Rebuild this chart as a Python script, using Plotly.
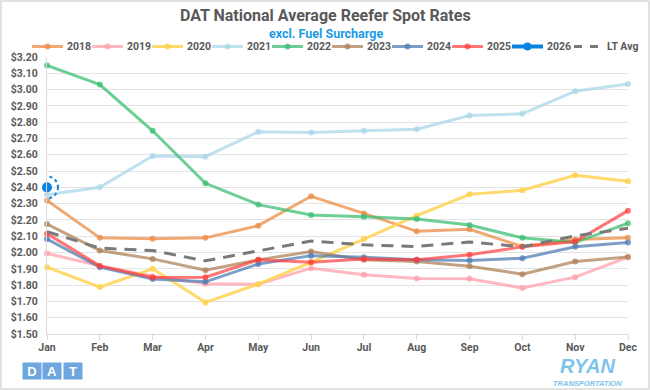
import plotly.graph_objects as go

months = ["Jan", "Feb", "Mar", "Apr", "May", "Jun", "Jul", "Aug", "Sep", "Oct", "Nov", "Dec"]

y2018 = [2.32, 2.09, 2.085, 2.09, 2.165, 2.345, 2.24, 2.13, 2.143, 2.037, 2.08, 2.09]
y2019 = [1.995, 1.918, 1.855, 1.808, 1.806, 1.904, 1.863, 1.84, 1.839, 1.782, 1.849, 1.971]
y2020 = [1.91, 1.788, 1.90, 1.694, 1.806, 1.939, 2.083, 2.226, 2.357, 2.382, 2.474, 2.437]
y2021 = [2.355, 2.40, 2.592, 2.588, 2.741, 2.737, 2.747, 2.757, 2.841, 2.851, 2.99, 3.035]
y2022 = [3.149, 3.031, 2.747, 2.425, 2.294, 2.231, 2.22, 2.206, 2.169, 2.09, 2.061, 2.18]
y2023 = [2.175, 2.012, 1.961, 1.892, 1.955, 2.006, 1.955, 1.945, 1.916, 1.867, 1.945, 1.973]
y2024 = [2.083, 1.91, 1.837, 1.82, 1.93, 1.981, 1.971, 1.955, 1.951, 1.965, 2.035, 2.061]
y2025 = [2.116, 1.918, 1.847, 1.849, 1.955, 1.941, 1.961, 1.955, 1.986, 2.035, 2.067, 2.257]
y2026 = [2.40]
lt_avg = [2.128, 2.027, 2.012, 1.949, 2.01, 2.071, 2.047, 2.037, 2.065, 2.035, 2.102, 2.149]

y_ticks = [1.5 + 0.1 * i for i in range(18)]

series = [
    ("2018", y2018, "rgba(236,140,70,0.75)"),
    ("2019", y2019, "rgba(255,160,170,0.75)"),
    ("2020", y2020, "rgba(255,210,80,0.85)"),
    ("2021", y2021, "rgba(170,215,232,0.75)"),
    ("2022", y2022, "rgba(60,190,115,0.75)"),
    ("2023", y2023, "rgba(175,130,90,0.75)"),
    ("2024", y2024, "rgba(80,125,180,0.75)"),
    ("2025", y2025, "rgba(255,60,60,0.7)"),
]
c2026 = "#0a84e0"
c_lt = "#7a7a7a"

FONT = "Roboto, Arial, sans-serif"
TXT = "#595959"

W, H = 581, 277
L, T = 47, 57


def px_x(p):
    return (p - L) / W


def px_y(p):
    return (T + H - p) / H


fig = go.Figure()
for name, vals, col in series:
    fig.add_trace(go.Scatter(
        x=months[:len(vals)], y=vals, name=name, mode="lines+markers",
        line=dict(color=col, width=3), marker=dict(color=col, size=6),
        cliponaxis=False, showlegend=False,
    ))

fig.add_trace(go.Scatter(
    x=months, y=lt_avg, name="LT Avg", mode="lines",
    line=dict(color=c_lt, width=3, dash="12px,8px"),
    cliponaxis=False, showlegend=False,
))
fig.add_trace(go.Scatter(
    x=months[:len(y2026)], y=y2026, name="2026", mode="lines+markers",
    line=dict(color=c2026, width=3.5), marker=dict(color=c2026, size=10),
    cliponaxis=False, showlegend=False,
))

# dashed highlight circle around the 2026 point
fig.add_shape(
    type="circle", xref="x", yref="y",
    xsizemode="pixel", ysizemode="pixel",
    xanchor=0, yanchor=y2026[0],
    x0=-11, x1=11, y0=-11, y1=11,
    line=dict(color=c2026, width=2, dash="dot"),
)

# custom legend (one row)
legend_items = [(n, c, "marker") for n, _, c in series] + [("2026", c2026, "big"), ("LT Avg", c_lt, "dash")]
ly = px_y(46.5)
for i, (name, col, kind) in enumerate(legend_items):
    x0 = 32 + 60 * i
    if kind == "dash":
        fig.add_shape(type="line", xref="paper", yref="paper",
                      x0=px_x(x0 + 2), x1=px_x(x0 + 30), y0=ly, y1=ly,
                      line=dict(color=col, width=3, dash="8px,8px"))
    else:
        fig.add_shape(type="line", xref="paper", yref="paper",
                      x0=px_x(x0), x1=px_x(x0 + 31), y0=ly, y1=ly,
                      line=dict(color=col, width=4 if kind == "big" else 3))
        r = 4 if kind == "big" else 3
        fig.add_shape(type="circle", xref="paper", yref="paper",
                      xsizemode="pixel", ysizemode="pixel",
                      xanchor=px_x(x0 + 15.5), yanchor=ly,
                      x0=-r, x1=r, y0=-r, y1=r,
                      line=dict(width=0), fillcolor=col)
    fig.add_annotation(xref="paper", yref="paper", x=px_x(x0 + 34), y=ly,
                       text=f"<b>{name}</b>", showarrow=False,
                       xanchor="left", yanchor="middle", borderpad=0,
                       font=dict(family=FONT, size=10.5, color=TXT))

# title + subtitle
fig.add_annotation(xref="paper", yref="paper", x=px_x(325), y=px_y(16),
                   text="<b>DAT National Average Reefer Spot Rates</b>",
                   showarrow=False, xanchor="center", yanchor="middle",
                   font=dict(family=FONT, size=16, color=TXT))
fig.add_annotation(xref="paper", yref="paper", x=px_x(326), y=px_y(33),
                   text="<b>excl. Fuel Surcharge</b>",
                   showarrow=False, xanchor="center", yanchor="middle",
                   font=dict(family=FONT, size=12.5, color="#1a9be6"))

# outer border
fig.add_shape(
    type="rect", xref="paper", yref="paper",
    x0=px_x(1), x1=px_x(649), y0=px_y(389), y1=px_y(1),
    line=dict(color="#d9d9d9", width=1.5),
)

fig.update_layout(
    width=650, height=390,
    margin=dict(l=L, r=650 - L - W, t=T, b=390 - T - H, autoexpand=False),
    paper_bgcolor="white", plot_bgcolor="white",
    font=dict(family=FONT, color=TXT, size=10.5),
    showlegend=False,
    xaxis=dict(
        type="category", categoryorder="array", categoryarray=months,
        range=[0, 11], showgrid=False, showline=True, linecolor="#d9d9d9",
        ticks="outside", ticklen=5, tickcolor="#d9d9d9",
        ticklabelstandoff=-2,
        tickfont=dict(family=FONT, size=10.5, color=TXT, weight="bold"),
        fixedrange=True,
    ),
    yaxis=dict(
        range=[1.5, 3.2], tickvals=y_ticks, tickformat="$.2f",
        showgrid=True, gridcolor="#e3e3e3", gridwidth=1,
        showline=True, linecolor="#d9d9d9", zeroline=False,
        tickfont=dict(family=FONT, size=10.5, color=TXT, weight="bold"),
        ticks="", ticklabelstandoff=6, fixedrange=True,
    ),
)

# logos as text
box_col = "#6ea6e0"
for i, ch in enumerate(["D", "A", "T"]):
    fig.add_annotation(
        xref="paper", yref="paper",
        x=px_x(31.5 + i * 20.5), y=px_y(371),
        text=f"<b>{ch}</b>", showarrow=False,
        font=dict(family="Arial, sans-serif", size=13, color="white"),
        bgcolor=box_col, width=17, height=15, borderpad=0.5,
        xanchor="center", yanchor="middle",
    )
fig.add_annotation(
    xref="paper", yref="paper", x=px_x(587), y=px_y(366),
    text="<b><i>RYAN</i></b>", showarrow=False, borderpad=0,
    font=dict(family="Arial, sans-serif", size=20, color="#7cc4ea"),
    xanchor="center", yanchor="middle",
)
fig.add_annotation(
    xref="paper", yref="paper", x=px_x(587), y=px_y(383),
    text="<b><i>TRANSPORTATION</i></b>", showarrow=False, borderpad=0,
    font=dict(family="Arial, sans-serif", size=7.5, color="#7cc4ea"),
    xanchor="center", yanchor="middle",
)

fig.write_html(
    "out.html",
    config={"displayModeBar": False, "staticPlot": True},
    post_script="document.body.style.margin='0';document.body.style.overflow='hidden';",
)
